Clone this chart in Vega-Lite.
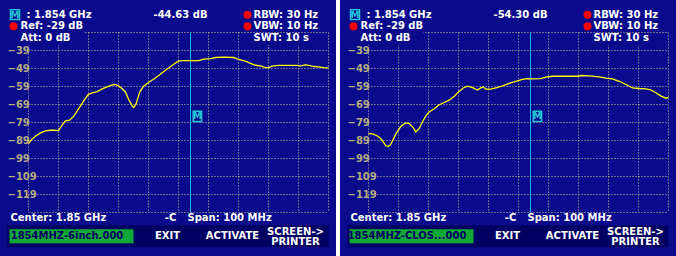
{
  "$schema": "https://vega.github.io/schema/vega-lite/v6.json",
  "padding": 0,
  "background": "white",
  "spacing": 4,
  "data": {"values": [
    {"kind":"info","panel":"A","mk":"-44.63 dB","file":"1854MHZ-6inch.000"},
    {"kind":"info","panel":"B","mk":"-54.30 dB","file":"1854MHZ-CLOS...000"},
    {"kind":"v","panel":"A","f":1800},{"kind":"v","panel":"A","f":1810},{"kind":"v","panel":"A","f":1820},{"kind":"v","panel":"A","f":1830},{"kind":"v","panel":"A","f":1840},{"kind":"v","panel":"A","f":1850},{"kind":"v","panel":"A","f":1860},{"kind":"v","panel":"A","f":1870},{"kind":"v","panel":"A","f":1880},{"kind":"v","panel":"A","f":1890},{"kind":"v","panel":"A","f":1900},
    {"kind":"v","panel":"B","f":1800},{"kind":"v","panel":"B","f":1810},{"kind":"v","panel":"B","f":1820},{"kind":"v","panel":"B","f":1830},{"kind":"v","panel":"B","f":1840},{"kind":"v","panel":"B","f":1850},{"kind":"v","panel":"B","f":1860},{"kind":"v","panel":"B","f":1870},{"kind":"v","panel":"B","f":1880},{"kind":"v","panel":"B","f":1890},{"kind":"v","panel":"B","f":1900},
    {"kind":"h","panel":"A","db":-29},{"kind":"h","panel":"A","db":-39},{"kind":"h","panel":"A","db":-49},{"kind":"h","panel":"A","db":-59},{"kind":"h","panel":"A","db":-69},{"kind":"h","panel":"A","db":-79},{"kind":"h","panel":"A","db":-89},{"kind":"h","panel":"A","db":-99},{"kind":"h","panel":"A","db":-109},{"kind":"h","panel":"A","db":-119},{"kind":"h","panel":"A","db":-129},
    {"kind":"h","panel":"B","db":-29},{"kind":"h","panel":"B","db":-39},{"kind":"h","panel":"B","db":-49},{"kind":"h","panel":"B","db":-59},{"kind":"h","panel":"B","db":-69},{"kind":"h","panel":"B","db":-79},{"kind":"h","panel":"B","db":-89},{"kind":"h","panel":"B","db":-99},{"kind":"h","panel":"B","db":-109},{"kind":"h","panel":"B","db":-119},{"kind":"h","panel":"B","db":-129},
    {"kind":"t","panel":"A","f":1800.0,"db":-90.7},{"kind":"t","panel":"A","f":1801.0,"db":-88.5},{"kind":"t","panel":"A","f":1802.3,"db":-86.6},{"kind":"t","panel":"A","f":1804.0,"db":-84.8},{"kind":"t","panel":"A","f":1805.7,"db":-83.6},{"kind":"t","panel":"A","f":1807.3,"db":-83.3},{"kind":"t","panel":"A","f":1808.4,"db":-83.3},{"kind":"t","panel":"A","f":1810.0,"db":-83.5},{"kind":"t","panel":"A","f":1811.2,"db":-80.5},{"kind":"t","panel":"A","f":1812.3,"db":-78.1},{"kind":"t","panel":"A","f":1813.7,"db":-77.7},{"kind":"t","panel":"A","f":1815.1,"db":-75.5},{"kind":"t","panel":"A","f":1816.8,"db":-71.2},{"kind":"t","panel":"A","f":1818.4,"db":-67.0},{"kind":"t","panel":"A","f":1819.9,"db":-63.5},{"kind":"t","panel":"A","f":1821.2,"db":-62.5},{"kind":"t","panel":"A","f":1822.9,"db":-61.8},{"kind":"t","panel":"A","f":1824.6,"db":-60.3},{"kind":"t","panel":"A","f":1826.2,"db":-59.2},{"kind":"t","panel":"A","f":1827.9,"db":-58.1},{"kind":"t","panel":"A","f":1829.0,"db":-57.9},{"kind":"t","panel":"A","f":1830.1,"db":-58.8},{"kind":"t","panel":"A","f":1831.2,"db":-60.3},{"kind":"t","panel":"A","f":1832.3,"db":-62.0},{"kind":"t","panel":"A","f":1833.4,"db":-66.2},{"kind":"t","panel":"A","f":1834.6,"db":-69.8},{"kind":"t","panel":"A","f":1835.1,"db":-70.7},{"kind":"t","panel":"A","f":1835.9,"db":-68.5},{"kind":"t","panel":"A","f":1837.1,"db":-62.0},{"kind":"t","panel":"A","f":1838.4,"db":-58.8},{"kind":"t","panel":"A","f":1840.1,"db":-56.6},{"kind":"t","panel":"A","f":1841.8,"db":-54.8},{"kind":"t","panel":"A","f":1843.4,"db":-52.9},{"kind":"t","panel":"A","f":1845.1,"db":-50.7},{"kind":"t","panel":"A","f":1846.8,"db":-48.6},{"kind":"t","panel":"A","f":1848.4,"db":-46.6},{"kind":"t","panel":"A","f":1849.9,"db":-44.9},{"kind":"t","panel":"A","f":1851.2,"db":-44.6},{"kind":"t","panel":"A","f":1852.9,"db":-44.6},{"kind":"t","panel":"A","f":1854.6,"db":-44.6},{"kind":"t","panel":"A","f":1856.8,"db":-44.6},{"kind":"t","panel":"A","f":1858.4,"db":-43.8},{"kind":"t","panel":"A","f":1860.7,"db":-43.5},{"kind":"t","panel":"A","f":1862.3,"db":-42.9},{"kind":"t","panel":"A","f":1865.1,"db":-42.7},{"kind":"t","panel":"A","f":1868.4,"db":-42.9},{"kind":"t","panel":"A","f":1870.1,"db":-44.0},{"kind":"t","panel":"A","f":1872.3,"db":-44.9},{"kind":"t","panel":"A","f":1874.0,"db":-46.2},{"kind":"t","panel":"A","f":1875.7,"db":-47.2},{"kind":"t","panel":"A","f":1877.3,"db":-47.5},{"kind":"t","panel":"A","f":1879.0,"db":-48.5},{"kind":"t","panel":"A","f":1880.1,"db":-48.5},{"kind":"t","panel":"A","f":1881.2,"db":-47.7},{"kind":"t","panel":"A","f":1883.4,"db":-47.3},{"kind":"t","panel":"A","f":1886.2,"db":-47.3},{"kind":"t","panel":"A","f":1889.6,"db":-47.3},{"kind":"t","panel":"A","f":1890.7,"db":-47.5},{"kind":"t","panel":"A","f":1892.3,"db":-47.0},{"kind":"t","panel":"A","f":1893.4,"db":-47.3},{"kind":"t","panel":"A","f":1895.1,"db":-47.9},{"kind":"t","panel":"A","f":1896.8,"db":-48.1},{"kind":"t","panel":"A","f":1898.4,"db":-48.5},{"kind":"t","panel":"A","f":1900.0,"db":-48.6},
    {"kind":"t","panel":"B","f":1800.0,"db":-85.1},{"kind":"t","panel":"B","f":1801.3,"db":-85.3},{"kind":"t","panel":"B","f":1802.7,"db":-86.2},{"kind":"t","panel":"B","f":1803.8,"db":-87.4},{"kind":"t","panel":"B","f":1804.9,"db":-89.8},{"kind":"t","panel":"B","f":1805.8,"db":-92.0},{"kind":"t","panel":"B","f":1806.7,"db":-92.2},{"kind":"t","panel":"B","f":1807.4,"db":-91.2},{"kind":"t","panel":"B","f":1808.2,"db":-88.5},{"kind":"t","panel":"B","f":1809.3,"db":-84.8},{"kind":"t","panel":"B","f":1810.8,"db":-81.1},{"kind":"t","panel":"B","f":1812.4,"db":-79.2},{"kind":"t","panel":"B","f":1813.6,"db":-79.6},{"kind":"t","panel":"B","f":1814.7,"db":-81.4},{"kind":"t","panel":"B","f":1815.8,"db":-84.2},{"kind":"t","panel":"B","f":1816.9,"db":-82.3},{"kind":"t","panel":"B","f":1818.0,"db":-78.6},{"kind":"t","panel":"B","f":1819.1,"db":-75.5},{"kind":"t","panel":"B","f":1820.2,"db":-73.1},{"kind":"t","panel":"B","f":1821.9,"db":-71.4},{"kind":"t","panel":"B","f":1823.3,"db":-69.4},{"kind":"t","panel":"B","f":1825.2,"db":-67.9},{"kind":"t","panel":"B","f":1826.9,"db":-66.6},{"kind":"t","panel":"B","f":1828.6,"db":-64.4},{"kind":"t","panel":"B","f":1830.0,"db":-62.0},{"kind":"t","panel":"B","f":1831.6,"db":-59.8},{"kind":"t","panel":"B","f":1833.0,"db":-58.8},{"kind":"t","panel":"B","f":1834.7,"db":-59.6},{"kind":"t","panel":"B","f":1836.3,"db":-61.0},{"kind":"t","panel":"B","f":1837.4,"db":-59.8},{"kind":"t","panel":"B","f":1838.2,"db":-59.2},{"kind":"t","panel":"B","f":1839.1,"db":-60.5},{"kind":"t","panel":"B","f":1840.8,"db":-60.5},{"kind":"t","panel":"B","f":1842.4,"db":-59.8},{"kind":"t","panel":"B","f":1844.7,"db":-58.6},{"kind":"t","panel":"B","f":1846.9,"db":-57.3},{"kind":"t","panel":"B","f":1849.1,"db":-56.2},{"kind":"t","panel":"B","f":1851.3,"db":-55.1},{"kind":"t","panel":"B","f":1853.0,"db":-54.6},{"kind":"t","panel":"B","f":1854.7,"db":-54.8},{"kind":"t","panel":"B","f":1857.4,"db":-54.6},{"kind":"t","panel":"B","f":1859.1,"db":-53.8},{"kind":"t","panel":"B","f":1861.3,"db":-53.3},{"kind":"t","panel":"B","f":1863.6,"db":-53.3},{"kind":"t","panel":"B","f":1866.9,"db":-53.3},{"kind":"t","panel":"B","f":1869.7,"db":-53.3},{"kind":"t","panel":"B","f":1871.3,"db":-52.9},{"kind":"t","panel":"B","f":1873.6,"db":-53.1},{"kind":"t","panel":"B","f":1876.9,"db":-53.6},{"kind":"t","panel":"B","f":1879.1,"db":-54.4},{"kind":"t","panel":"B","f":1881.3,"db":-54.8},{"kind":"t","panel":"B","f":1883.6,"db":-56.1},{"kind":"t","panel":"B","f":1885.8,"db":-57.9},{"kind":"t","panel":"B","f":1888.0,"db":-59.8},{"kind":"t","panel":"B","f":1890.2,"db":-60.1},{"kind":"t","panel":"B","f":1892.4,"db":-60.3},{"kind":"t","panel":"B","f":1894.1,"db":-60.9},{"kind":"t","panel":"B","f":1895.8,"db":-62.5},{"kind":"t","panel":"B","f":1897.4,"db":-64.2},{"kind":"t","panel":"B","f":1899.1,"db":-65.5},{"kind":"t","panel":"B","f":1900.0,"db":-65.1}
  ]},
  "facet": {"column": {"field": "panel", "type": "nominal", "header": null}},
  "spec": {
    "width": 336,
    "height": 256,
    "layer": [
      {"transform": [{"filter": "datum.kind == 'info'"}], "mark": {"type": "rect", "color": "#000062"},
       "encoding": {"x": {"datum": 1793, "type": "quantitative", "scale": {"domain": [1800, 1900], "range": [28.5, 328.5], "nice": false, "zero": false}},
                    "x2": {"datum": 1900}, "y": {"datum": -136.1, "type": "quantitative", "scale": {"domain": [-129, -29], "range": [212.5, 32.5], "nice": false, "zero": false}}, "y2": {"datum": -148.3}}},
      {"transform": [{"filter": "datum.kind == 'info'"}], "mark": {"type": "rect", "color": "#12a838"},
       "encoding": {"x": {"datum": 1793.67}, "x2": {"datum": 1835}, "y": {"datum": -138.3}, "y2": {"datum": -146.1}}},
      {"transform": [{"filter": "datum.kind == 'v'"}], "mark": {"type": "rule", "color": "#c8c496", "strokeDash": [1, 2], "strokeWidth": 1},
       "encoding": {"x": {"field": "f", "type": "quantitative"}, "y": {"datum": -29}, "y2": {"datum": -129}}},
      {"transform": [{"filter": "datum.kind == 'h'"}], "mark": {"type": "rule", "color": "#c8c496", "strokeDash": [1, 2], "strokeWidth": 1},
       "encoding": {"y": {"field": "db", "type": "quantitative"}, "x": {"datum": 1800}, "x2": {"datum": 1900}}},
      {"transform": [{"filter": "datum.kind == 'info'"}], "mark": {"type": "rect", "color": "#0a0a8c"},
       "encoding": {"x": {"datum": 1790.67}, "x2": {"datum": 1818.33}, "y": {"datum": -28.3}, "y2": {"datum": -36.1}}},
      {"transform": [{"filter": "datum.kind == 'info'"}], "mark": {"type": "rect", "color": "#0a0a8c"},
       "encoding": {"x": {"datum": 1874}, "x2": {"datum": 1894}, "y": {"datum": -29.7}, "y2": {"datum": -36.1}}},
      {"transform": [{"filter": "datum.kind == 'info'"}], "mark": {"type": "rule", "color": "#22b4e4", "strokeWidth": 1},
       "encoding": {"x": {"datum": 1854}, "y": {"datum": -29}, "y2": {"datum": -129}}},
      {"transform": [{"filter": "datum.kind == 't'"}], "mark": {"type": "line", "color": "#ffff00", "strokeWidth": 1.3},
       "encoding": {"x": {"field": "f", "type": "quantitative"}, "y": {"field": "db", "type": "quantitative"}, "order": {"field": "f"}}},
      {"transform": [{"filter": "datum.kind == 'h' && datum.db <= -39 && datum.db >= -119"}], "mark": {"type": "text", "color": "#b4ac80", "align": "left"},
       "encoding": {"y": {"field": "db", "type": "quantitative"}, "x": {"datum": 1793}, "text": {"field": "db", "type": "quantitative", "format": "d"}}},
      {"transform": [{"filter": "datum.kind == 'info'"}], "mark": {"type": "rect", "fill": "#0a0a8c", "stroke": "#22c4d8", "strokeWidth": 1.5},
       "encoding": {"x": {"datum": 1854.9}, "x2": {"datum": 1857.7}, "y": {"datum": -72.8}, "y2": {"datum": -78.4}}},
      {"transform": [{"filter": "datum.kind == 'info'"}], "mark": {"type": "text", "text": "M", "color": "#22c4d8", "fontSize": 9, "align": "center"},
       "encoding": {"x": {"datum": 1856.3}, "y": {"datum": -75.6}}},
      {"transform": [{"filter": "datum.kind == 'info'"}], "mark": {"type": "rect", "fill": "#0a0a8c", "stroke": "#22c4d8", "strokeWidth": 1.5},
       "encoding": {"x": {"datum": 1794.0}, "x2": {"datum": 1797.0}, "y": {"datum": -16.4}, "y2": {"datum": -21.8}}},
      {"transform": [{"filter": "datum.kind == 'info'"}], "mark": {"type": "text", "text": "M", "color": "#22c4d8", "fontSize": 9, "align": "center"},
       "encoding": {"x": {"datum": 1795.5}, "y": {"datum": -19.1}}},
      {"transform": [{"filter": "datum.kind == 'info'"}], "mark": {"type": "text", "text": ": 1.854 GHz"},
       "encoding": {"x": {"datum": 1799.33}, "y": {"datum": -19.1}}},
      {"transform": [{"filter": "datum.kind == 'info'"}], "mark": {"type": "text", "align": "center"},
       "encoding": {"x": {"datum": 1850.67}, "y": {"datum": -19.1}, "text": {"field": "mk"}}},
      {"transform": [{"filter": "datum.kind == 'info'"}], "mark": {"type": "circle", "color": "#ff0000", "opacity": 1, "size": 64},
       "encoding": {"x": {"datum": 1873}, "y": {"datum": -19.1}}},
      {"transform": [{"filter": "datum.kind == 'info'"}], "mark": {"type": "text", "text": "RBW: 30 Hz"},
       "encoding": {"x": {"datum": 1875}, "y": {"datum": -19.1}}},
      {"transform": [{"filter": "datum.kind == 'info'"}], "mark": {"type": "circle", "color": "#ff0000", "opacity": 1, "size": 64},
       "encoding": {"x": {"datum": 1795}, "y": {"datum": -25.5}}},
      {"transform": [{"filter": "datum.kind == 'info'"}], "mark": {"type": "text", "text": "Ref: -29 dB"},
       "encoding": {"x": {"datum": 1797.33}, "y": {"datum": -25.5}}},
      {"transform": [{"filter": "datum.kind == 'info'"}], "mark": {"type": "circle", "color": "#ff0000", "opacity": 1, "size": 64},
       "encoding": {"x": {"datum": 1873}, "y": {"datum": -25.5}}},
      {"transform": [{"filter": "datum.kind == 'info'"}], "mark": {"type": "text", "text": "VBW: 10 Hz"},
       "encoding": {"x": {"datum": 1875}, "y": {"datum": -25.5}}},
      {"transform": [{"filter": "datum.kind == 'info'"}], "mark": {"type": "text", "text": "Att: 0 dB"},
       "encoding": {"x": {"datum": 1797.33}, "y": {"datum": -32.2}}},
      {"transform": [{"filter": "datum.kind == 'info'"}], "mark": {"type": "text", "text": "SWT: 10 s"},
       "encoding": {"x": {"datum": 1875}, "y": {"datum": -32.2}}},
      {"transform": [{"filter": "datum.kind == 'info'"}], "mark": {"type": "text", "text": "Center: 1.85 GHz"},
       "encoding": {"x": {"datum": 1794}, "y": {"datum": -132.2}}},
      {"transform": [{"filter": "datum.kind == 'info'"}], "mark": {"type": "text", "text": "-C", "align": "center"},
       "encoding": {"x": {"datum": 1847.33}, "y": {"datum": -132.2}}},
      {"transform": [{"filter": "datum.kind == 'info'"}], "mark": {"type": "text", "text": "Span: 100 MHz"},
       "encoding": {"x": {"datum": 1853}, "y": {"datum": -132.2}}},
      {"transform": [{"filter": "datum.kind == 'info'"}], "mark": {"type": "text", "align": "center", "color": "#000062"},
       "encoding": {"x": {"datum": 1812.83}, "y": {"datum": -142.2}, "text": {"field": "file"}}},
      {"transform": [{"filter": "datum.kind == 'info'"}], "mark": {"type": "text", "text": "EXIT", "align": "center"},
       "encoding": {"x": {"datum": 1846.33}, "y": {"datum": -142.2}}},
      {"transform": [{"filter": "datum.kind == 'info'"}], "mark": {"type": "text", "text": "ACTIVATE", "align": "center"},
       "encoding": {"x": {"datum": 1868}, "y": {"datum": -142.2}}},
      {"transform": [{"filter": "datum.kind == 'info'"}], "mark": {"type": "text", "text": "SCREEN->", "align": "center"},
       "encoding": {"x": {"datum": 1889}, "y": {"datum": -139.9}}},
      {"transform": [{"filter": "datum.kind == 'info'"}], "mark": {"type": "text", "text": "PRINTER", "align": "center"},
       "encoding": {"x": {"datum": 1889}, "y": {"datum": -145.5}}}
    ]
  },
  "config": {
    "view": {"fill": "#0a0a8c", "stroke": null},
    "axis": {"disable": true},
    "text": {"font": "DejaVu Sans", "fontWeight": "bold", "fontSize": 10, "color": "white", "baseline": "middle", "align": "left"}
  }
}
